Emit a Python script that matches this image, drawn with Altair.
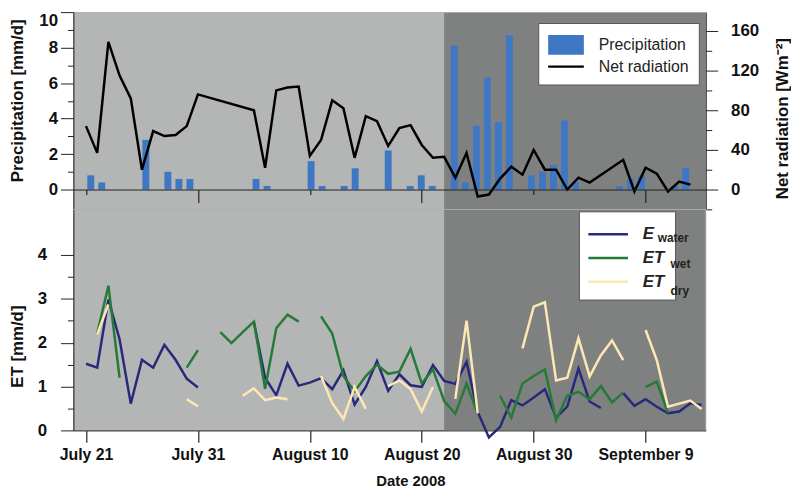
import altair as alt
import pandas as pd

LIGHT = "#b4b6b6"
DARK = "#7f8181"
BLUE = "#3e78c5"
NAVY = "#28287c"
GREEN = "#267a38"
BEIGE = "#fde8b4"
FONT = "Liberation Sans"

# ---------------- data ----------------
precip_dates = ["2008-07-21", "2008-07-22", "2008-07-26", "2008-07-28", "2008-07-29", "2008-07-30",
                "2008-08-05", "2008-08-06", "2008-08-10", "2008-08-11", "2008-08-13", "2008-08-14",
                "2008-08-17", "2008-08-19", "2008-08-20", "2008-08-21", "2008-08-23", "2008-08-24",
                "2008-08-25", "2008-08-26", "2008-08-27", "2008-08-28", "2008-08-30", "2008-08-31",
                "2008-09-01", "2008-09-02", "2008-09-03", "2008-09-07", "2008-09-08", "2008-09-09",
                "2008-09-12", "2008-09-13"]
precip_values = [0.8, 0.4, 2.8, 1.0, 0.6, 0.6,
                 0.6, 0.2, 1.6, 0.2, 0.2, 1.2,
                 2.2, 0.2, 0.8, 0.2, 8.1, 0.4,
                 3.6, 6.3, 3.8, 8.7, 0.8, 1.0,
                 1.4, 3.9, 0.4, 0.2, 0.6, 0.8,
                 0.2, 1.2]

netrad_dates = ["2008-07-21", "2008-07-22", "2008-07-23", "2008-07-24", "2008-07-25", "2008-07-26",
                "2008-07-27", "2008-07-28", "2008-07-29", "2008-07-30", "2008-07-31", "2008-08-05",
                "2008-08-06", "2008-08-07", "2008-08-08", "2008-08-09", "2008-08-10", "2008-08-11",
                "2008-08-12", "2008-08-13", "2008-08-14", "2008-08-15", "2008-08-16", "2008-08-17",
                "2008-08-18", "2008-08-19", "2008-08-20", "2008-08-21", "2008-08-22", "2008-08-23",
                "2008-08-24", "2008-08-25", "2008-08-26", "2008-08-27", "2008-08-28", "2008-08-29",
                "2008-08-30", "2008-08-31", "2008-09-01", "2008-09-02", "2008-09-03", "2008-09-04",
                "2008-09-07", "2008-09-08", "2008-09-09", "2008-09-10", "2008-09-11", "2008-09-12",
                "2008-09-13"]
netrad_values = [64, 37, 149, 115, 92, 20,
                 59, 54, 55, 64, 96, 80,
                 22, 100, 103, 104, 34, 50,
                 90, 82, 32, 74, 69, 44,
                 62, 65, 45, 32, 33, 12,
                 37, -7, -5, 11, 23, 15,
                 40, 20, 20, 0, 12, 7,
                 30, -2, 22, 16, -2, 8,
                 5]

# daily ET series, 2008-07-21 .. 2008-09-14 (None = no value)
et_dates = pd.date_range("2008-07-21", "2008-09-14", freq="D").strftime("%Y-%m-%d").tolist()
N = None
e_water = [1.52, 1.43, 2.98, 2.08, 0.61, 1.61, 1.43, 1.95, 1.61, 1.18, 0.98,
           N, N, N, N,
           2.47, 1.2, 0.8, 1.52, 1.02, 1.09, 1.19, 0.94, 1.37, 0.59, 0.99, 1.58, 0.9, 1.28,
           1.03, 0.99, 1.49, 1.13, 1.06, 1.56, 0.42, -0.16, 0.08, 0.69, 0.57, 0.75, 0.94,
           0.29, 0.54, 1.41, 0.66, 0.51,
           N,
           0.85, 0.56, 0.71, 0.54, 0.39, 0.43, 0.62, 0.58]
et_wet = [N, 2.21, 3.3, 1.2, N, N, N, N, N, 1.43, 1.83,
          N, 2.24, 1.99, 2.24,
          2.48, 0.95, 2.33, 2.64, 2.48, N, 2.6, 2.21, 1.24, 0.89, 1.24, 1.5, 1.29, 1.34,
          1.86, 1.07, 1.39, 0.67, 0.38, 1.07, 0.38, N, 0.79, 0.29, 1.07, 1.24, 1.39,
          0.23, 0.79, 0.88, 0.71, 1.01,
          0.64,
          0.86, N, 0.99, 1.11, 0.4, N, N, N]
et_dry = [N, 2.19, 2.87, N, N, N, N, N, N, 0.71, 0.55,
          N, N, N, 0.79,
          0.96, 0.69, 0.75, 0.71, N, N, 1.24, 0.62, 0.26, 0.99, 0.49, N, 1.01, 1.14,
          0.94, 0.43, 0.99, N, 0.72, 2.5, 0.39, N, N, N, 1.87, 2.82, 2.92,
          1.14, 1.2, 2.1, 1.23, 1.71,
          2.05,
          1.6, N, 2.29, 1.6, 0.54, 0.61, 0.68, 0.49]
NB = "\u00a0"
et_names = ["E_water", "ET_wet", "ET_dry"]
et_main_labels = ["E" + NB * 7, "ET" + NB * 6, "ET" + NB * 6]
et_sub_labels = ["water", "wet", "dry"]
et_series = [e_water, et_wet, et_dry]
et_colors = [NAVY, GREEN, BEIGE]

p_names = ["Precipitation", "Net radiation"]
p_colors = [BLUE, "black"]
p_shapes = ["M-1.5,-0.833H1.5V0.833H-1.5Z", "M-1.5,-0.1H1.5V0.1H-1.5Z"]
LINE_SYMBOL = "M-1.7,0H1.7"

all_start, all_end = ["2008-07-19"], ["2008-09-15"]
shade_start, shade_end = ["2008-07-19"], ["2008-08-22"]

# ---------------- tables ----------------
precip_df = pd.DataFrame({"date": precip_dates, "value": precip_values})
netrad_df = pd.DataFrame({"date": netrad_dates, "value": netrad_values})
rows = []
for name, vals in zip(et_names, et_series):
    seg = 0
    for d, v in zip(et_dates, vals):
        if v is None:
            seg += 1
            continue
        rows.append({"date": d, "value": v, "eseries": name, "seg": f"{name}-{seg}"})
et_df = pd.DataFrame(rows)
dark_df = pd.DataFrame({"start": all_start, "end": all_end, "value": [0]})
shade_df = pd.DataFrame({"start": shade_start, "end": shade_end, "value": [0]})
plegend_df = pd.DataFrame({"pseries": p_names, "date": precip_dates[:2], "value": precip_values[:2]})


def dt(m, d, h=0):
    return alt.DateTime(year=2008, month=m, date=d, hours=h, utc=True)


def x_scale():
    return alt.Scale(type="utc", domain=[dt(7, 19, 21), dt(9, 14, 9)])


W = 638
H_TOP = 199
H_BOT = 223

lab = dict(labelFont=FONT, labelFontWeight="bold", labelColor="#111", titleFont=FONT,
           titleFontWeight="bold", titleColor="#111", domainColor="#222", tickColor="#222",
           grid=False, zindex=1)
minor = dict(labels=False, title=None, domain=False, grid=False, tickColor="#222",
             tickSize=6, offset=0, zindex=1)

short_x_axis = alt.Axis(orient="bottom", values=[dt(7, 21), dt(8, 10), dt(8, 30)], labels=False,
                        title=None, offset=-20, tickSize=5, domainWidth=1, tickWidth=1.2, **lab)
long_x_axis = alt.Axis(orient="bottom", values=[dt(7, 31), dt(8, 20), dt(9, 9)], labels=False,
                       title=None, offset=-20, tickSize=13, domain=False, tickWidth=1.2, **lab)

bot_x_axis = alt.Axis(orient="bottom",
                      values=[dt(7, 21), dt(7, 31), dt(8, 10), dt(8, 20), dt(8, 30), dt(9, 9)],
                      format="%B %-d", title="Date 2008", tickSize=12,
                      labelPadding=4, labelFontSize=16, labelFlush=False, labelOverlap=False,
                      titleFontSize=15, titleX=340, titleY=51, titleBaseline="middle",
                      tickWidth=1.2, **lab)

precip_axis = alt.Axis(orient="left", values=[0, 2, 4, 6, 8, 10], format="d",
                       tickSize=13, labelPadding=3, labelFontSize=17, labelFlush=True,
                       title="Precipitation [mm/d]", titleFontSize=17, titleX=-56, titleY=89,
                       titleAngle=270, titleBaseline="middle", titleAlign="center", **lab)
precip_minor = alt.Axis(orient="left", values=[1, 3, 5, 7, 9], **minor)

netrad_axis = alt.Axis(orient="right", values=[0, 40, 80, 120, 160], format="d",
                       tickSize=12, labelPadding=13, labelFontSize=17,
                       title="Net radiation [Wm⁻²]", titleFontSize=17, titleX=77, titleY=107,
                       titleAngle=270, titleBaseline="middle", titleAlign="center", **lab)
netrad_minor = alt.Axis(orient="right", values=[-20, 20, 60, 100, 140], **minor)

et_axis = alt.Axis(orient="left", values=[0, 1, 2, 3, 4], format="d",
                   tickSize=13, labelPadding=14, labelFontSize=17,
                   title="ET [mm/d]", titleFontSize=17, titleX=-56, titleY=138,
                   titleAngle=270, titleBaseline="middle", titleAlign="center", **lab)
et_minor = alt.Axis(orient="left", values=[0.5, 1.5, 2.5, 3.5], **minor)


def p_scale():
    return alt.Scale(domain=[-1.117, 10], nice=False)


def r_scale():
    return alt.Scale(domain=[-20, 179], nice=False)


def e_scale():
    return alt.Scale(domain=[0, 5.04], nice=False)


top_legend = alt.Legend(title=None, orient="none", legendX=469, legendY=11, fillColor="white",
                        strokeColor="#555", padding=10, labelFont=FONT, labelFontSize=16,
                        labelColor="#222", symbolSize=576, symbolStrokeWidth=0,
                        symbolOpacity=1, rowPadding=0, symbolOffset=6, labelOffset=21)

main_map = " : ".join(f"datum.value === '{n}' ? '{l}'" for n, l in zip(et_names, et_main_labels)) + " : ''"

legend_common = dict(title=None, orient="none", legendX=510, padding=10, labelFont=FONT,
                     labelFontWeight="bold", labelColor="#222", symbolType=LINE_SYMBOL,
                     symbolSize=552, symbolStrokeWidth=2.5, symbolOffset=6.5, rowPadding=3)
bot_legend = alt.Legend(legendY=2, fillColor="white", strokeColor="#555", labelFontSize=17,
                        labelFontStyle="italic", labelOffset=22, labelExpr=main_map,
                        **legend_common)
# one small legend per subscript, each placed on its own legend row
sub_rows_y = [6, 32.5, 59]
sub_offsets = [37, 50, 50]

# ---------------- top panel ----------------
dark_top = alt.Chart(dark_df).mark_rect(color=DARK, clip=True).encode(
    x=alt.X("start:T", scale=x_scale(), axis=None), x2="end:T")
shade_top = alt.Chart(shade_df).mark_rect(color=LIGHT, clip=True).encode(
    x=alt.X("start:T", scale=x_scale(), axis=short_x_axis), x2="end:T")
long_ticks = alt.Chart(shade_df).transform_filter("false").mark_point().encode(
    x=alt.X("start:T", scale=x_scale(), axis=long_x_axis),
    y=alt.Y("value:Q", scale=p_scale(), axis=None))

bars = alt.Chart(precip_df).mark_bar(size=7, color=BLUE).encode(
    x=alt.X("date:T", scale=x_scale(), axis=None),
    y=alt.Y("value:Q", scale=p_scale(), axis=precip_axis))
p_minor = alt.Chart(precip_df).transform_filter("false").mark_point().encode(
    x=alt.X("date:T", scale=x_scale(), axis=None),
    y=alt.Y("value:Q", scale=p_scale(), axis=precip_minor))

netrad = alt.Chart(netrad_df).mark_line(strokeWidth=2.5, color="black").encode(
    x=alt.X("date:T", scale=x_scale(), axis=None),
    y=alt.Y("value:Q", scale=r_scale(), axis=netrad_axis))
r_minor = alt.Chart(netrad_df).transform_filter("false").mark_point().encode(
    x=alt.X("date:T", scale=x_scale(), axis=None),
    y=alt.Y("value:Q", scale=r_scale(), axis=netrad_minor))

p_legend = alt.Chart(plegend_df).transform_filter("false").mark_point(filled=True).encode(
    x=alt.X("date:T", scale=x_scale(), axis=None),
    y=alt.Y("value:Q", scale=p_scale(), axis=None),
    color=alt.Color("pseries:N", scale=alt.Scale(domain=p_names, range=p_colors), legend=top_legend),
    shape=alt.Shape("pseries:N", scale=alt.Scale(domain=p_names, range=p_shapes), legend=top_legend))

top = alt.layer(dark_top, shade_top, long_ticks, bars, p_minor, netrad, r_minor, p_legend
                ).resolve_scale(x="independent", y="independent", color="shared",
                                shape="shared").properties(width=W, height=H_TOP)

# ---------------- bottom panel ----------------
dark_bot = alt.Chart(dark_df).mark_rect(color=DARK, clip=True).encode(
    x=alt.X("start:T", scale=x_scale(), axis=bot_x_axis), x2="end:T")
shade_bot = alt.Chart(shade_df).mark_rect(color=LIGHT, clip=True).encode(
    x=alt.X("start:T", scale=x_scale(), axis=bot_x_axis), x2="end:T")

et_lines = alt.Chart(et_df).mark_line(strokeWidth=2.5).encode(
    x=alt.X("date:T", scale=x_scale(), axis=bot_x_axis),
    y=alt.Y("value:Q", scale=e_scale(), axis=et_axis),
    color=alt.Color("eseries:N", scale=alt.Scale(domain=et_names, range=et_colors),
                    legend=bot_legend),
    detail="seg:N")
e_minor = alt.Chart(et_df).transform_filter("false").mark_point().encode(
    x=alt.X("date:T", scale=x_scale(), axis=bot_x_axis),
    y=alt.Y("value:Q", scale=e_scale(), axis=et_minor))

sub_layers = []
for i, (txt, ly, lo) in enumerate(zip(et_sub_labels, sub_rows_y, sub_offsets)):
    fld = f"sub{i}"
    df_i = pd.DataFrame({fld: [txt], "date": [et_dates[i]], "value": [e_water[i]]})
    leg = alt.Legend(legendY=ly, labelFontSize=12, symbolOpacity=0, labelOffset=lo,
                     zindex=2, **legend_common)
    sub_layers.append(
        alt.Chart(df_i).transform_filter("false").mark_line(strokeWidth=2.5).encode(
            x=alt.X("date:T", scale=x_scale(), axis=bot_x_axis),
            y=alt.Y("value:Q", scale=e_scale(), axis=None),
            strokeDash=alt.StrokeDash(f"{fld}:N", scale=alt.Scale(domain=[txt]), legend=leg)))

bottom = alt.layer(dark_bot, shade_bot, et_lines, e_minor, *sub_layers).resolve_scale(
    y="independent", strokeDash="independent").properties(width=W, height=H_BOT)

chart = alt.vconcat(top, bottom, spacing=0, bounds="flush").resolve_scale(
    x="independent", y="independent", color="independent", shape="independent",
    strokeDash="independent"
).configure_view(stroke=None).configure(
    font=FONT
).properties(padding={"left": 0, "top": 0, "right": 0, "bottom": 0})

chart.save("out.html", embed_options={"renderer": "svg", "actions": False})
